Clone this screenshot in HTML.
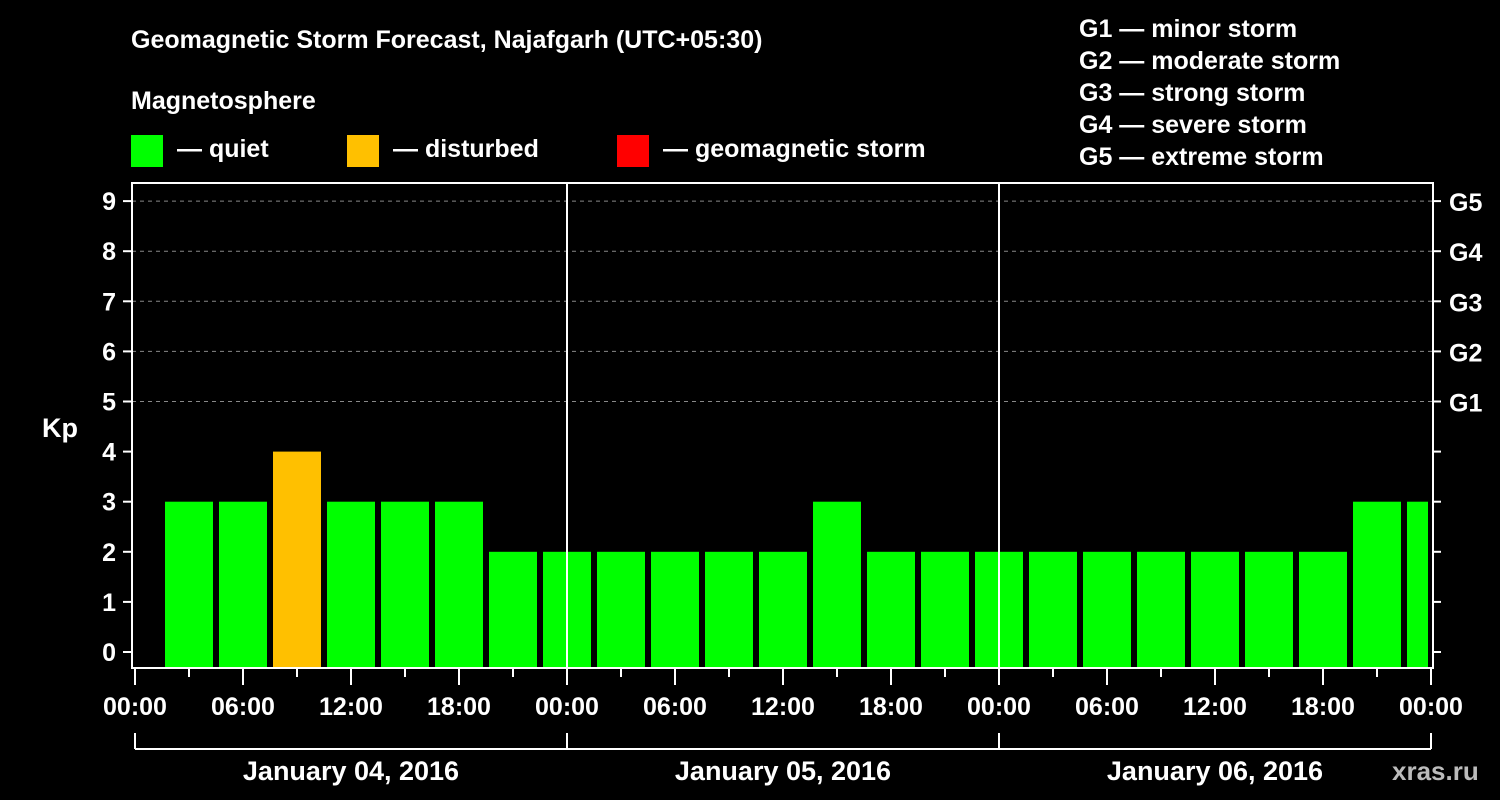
<!DOCTYPE html>
<html><head><meta charset="utf-8"><style>
body{margin:0;background:#000;}
svg{display:block;font-family:"Liberation Sans",Arial,sans-serif;font-weight:bold;}
</style></head><body>
<svg id="chart" width="1500" height="800" viewBox="0 0 1500 800">
<rect width="1500" height="800" fill="#000"/>
<text x="131" y="48" fill="#fff" font-size="25">Geomagnetic Storm Forecast, Najafgarh (UTC+05:30)</text>
<text x="131" y="109" fill="#fff" font-size="25">Magnetosphere</text>
<g><rect x="131" y="135" width="32" height="32" fill="#00ff00"/><text x="177" y="157" fill="#fff" font-size="25">— quiet</text></g>
<g><rect x="347" y="135" width="32" height="32" fill="#ffc000"/><text x="393" y="157" fill="#fff" font-size="25">— disturbed</text></g>
<g><rect x="617" y="135" width="32" height="32" fill="#ff0000"/><text x="663" y="157" fill="#fff" font-size="25">— geomagnetic storm</text></g>
<g fill="#fff" font-size="25">
<text x="1079" y="37">G1 — minor storm</text><text x="1079" y="69">G2 — moderate storm</text><text x="1079" y="101">G3 — strong storm</text><text x="1079" y="133">G4 — severe storm</text><text x="1079" y="165">G5 — extreme storm</text>
</g>
<text x="42" y="437" fill="#fff" font-size="27">Kp</text>
<text x="1392" y="780" fill="#bbb" font-size="26">xras.ru</text>
<g id="plot"></g>
</svg>
<script>
const kpValues=[3,3,4,3,3,3,2,2,2,2,2,2,3,2,2,2,2,2,2,2,2,2,3,3,3];
const yTicks=[0,1,2,3,4,5,6,7,8,9];
const gLabels=["","","","","","G1","G2","G3","G4","G5"];
const xTickLabels=["00:00","06:00","12:00","18:00","00:00","06:00","12:00","18:00","00:00","06:00","12:00","18:00","00:00"];
const dayLabels=["January 04, 2016","January 05, 2016","January 06, 2016"];
const NS="http://www.w3.org/2000/svg";
const g=document.getElementById('plot');
const L=132,R=1433,T=183,B=668,X0=135,DAY=432;
const y=v=>652-v*50.1;
const xh=h=>X0+h*DAY/24;
function mk(t,a,p){const e=document.createElementNS(NS,t);for(const k in a)e.setAttribute(k,a[k]);(p||g).appendChild(e);return e;}
// bars
kpValues.forEach((v,i)=>{
  const c=xh(3*i+3); let x1=Math.max(c-24,L+5),x2=Math.min(c+24,R-5);
  const col=v>=5?'#ff0000':(v>=4?'#ffc000':'#00ff00');
  const r=mk('rect',{x:x1,y:y(v),width:x2-x1,height:B-y(v),fill:col});
  
  
});
// grid + y ticks
yTicks.forEach((v,i)=>{
  if(v>=5){const l=mk('line',{x1:L,x2:R,y1:y(v),y2:y(v),stroke:'#888','stroke-dasharray':'4,4','stroke-width':1});
  
  }
  mk('line',{x1:L-9,x2:L,y1:y(v),y2:y(v),stroke:'#fff','stroke-width':2});
  mk('line',{x1:R,x2:R+8,y1:y(v),y2:y(v),stroke:'#fff','stroke-width':2});
  const t=mk('text',{x:L-16,y:y(v)+9,fill:'#fff','font-size':25,'text-anchor':'end'});t.textContent=v;
  
  
  if(gLabels[i]){const s=mk('text',{x:1449,y:y(v)+10,fill:'#fff','font-size':25});s.textContent=gLabels[i];
  
  }
});
// day separators
[1,2].forEach(d=>mk('line',{x1:X0+d*DAY,x2:X0+d*DAY,y1:T,y2:B,stroke:'#fff','stroke-width':2}));
// frame
const f=mk('rect',{x:L,y:T,width:R-L,height:B-T,fill:'none',stroke:'#fff','stroke-width':2});


// x ticks
for(let h=0;h<=72;h+=3){const major=h%6===0;mk('line',{x1:xh(h),x2:xh(h),y1:B,y2:B+(major?17:9),stroke:'#fff','stroke-width':2});}
xTickLabels.forEach((s,i)=>{const t=mk('text',{x:xh(i*6),y:715,fill:'#fff','font-size':25,'text-anchor':'middle'});t.textContent=s;
  
  });
// day bracket
mk('line',{x1:X0,x2:X0+3*DAY,y1:749,y2:749,stroke:'#fff','stroke-width':2});
for(let d=0;d<=3;d++)mk('line',{x1:X0+d*DAY,x2:X0+d*DAY,y1:733,y2:749,stroke:'#fff','stroke-width':2});
dayLabels.forEach((s,i)=>{const t=mk('text',{x:X0+(i+0.5)*DAY,y:780,fill:'#fff','font-size':27,'text-anchor':'middle'});t.textContent=s;
  
  });
</script>
</body></html>
